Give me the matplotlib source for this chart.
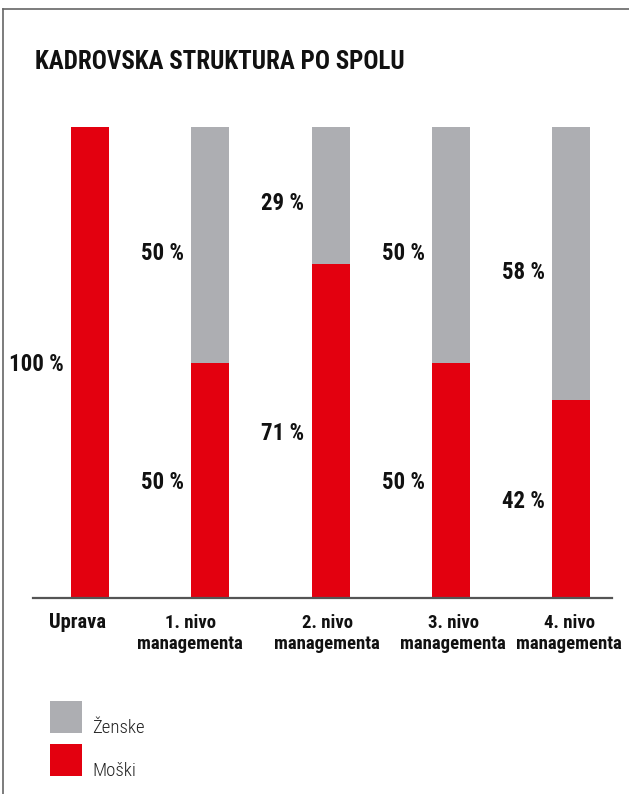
import numpy as np
import matplotlib
matplotlib.use("Agg")
import matplotlib.pyplot as plt
from matplotlib.patches import Rectangle
from matplotlib.lines import Line2D

categories = ["Uprava", "1. nivo\nmanagementa", "2. nivo\nmanagementa",
              "3. nivo\nmanagementa", "4. nivo\nmanagementa"]
moski = [100, 50, 71, 50, 42]
zenske = [0, 50, 29, 50, 58]
legend_labels = ["Ženske", "Moški"]
title = "KADROVSKA STRUKTURA PO SPOLU"

RED = "#e3000f"
GREY = "#adaeb2"

plt.rcParams["font.family"] = ["Roboto Condensed", "DejaVu Sans"]

W, H = 629, 794
fig = plt.figure(figsize=(W / 100, H / 100), dpi=100)

def fx(px):
    return px / W

def fy(py):
    return 1 - py / H

# plot area: baseline at y=598, 100 % at y=127
ax = fig.add_axes([fx(33), fy(598), fx(612) - fx(33), (598 - 127) / H])
x = np.arange(len(categories))
width = 0.316
ax.bar(x, moski, width, color=RED, zorder=2)
ax.bar(x, zenske, width, bottom=moski, color=GREY, zorder=2)
ax.set_xlim(-0.474, 4.34)
ax.set_ylim(0, 100)
for s in ["top", "left", "right"]:
    ax.spines[s].set_visible(False)
ax.spines["bottom"].set_color("#555555")
ax.spines["bottom"].set_linewidth(1.6)
ax.spines["bottom"].set_zorder(3)
ax.set_xticks([])
ax.set_yticks([])

# value labels to the left of each segment
for i in range(len(categories)):
    lx = x[i] - width / 2 - 0.06
    if moski[i] > 0:
        ax.text(lx, moski[i] / 2 - 0.5, f"{moski[i]} %", ha="right", va="center",
                fontsize=16.5, fontweight="bold", color="#111111")
    if zenske[i] > 0:
        ax.text(lx, moski[i] + zenske[i] / 2 - 1.8, f"{zenske[i]} %", ha="right",
                va="center", fontsize=16.5, fontweight="bold", color="#111111")

# category names under the axis (centres in pixels, not quite under the bars)
label_cx = [78, 190, 327, 453, 569]
for i, name in enumerate(categories):
    fig.text(fx(label_cx[i]), fy(614 if i else 613), name, ha="center", va="top",
             fontsize=13.5 if i else 14.8, fontweight="bold", color="#111111",
             linespacing=1.2)

fig.text(fx(35), fy(62), title, ha="left", va="center", fontsize=18,
         fontweight="bold", color="#111111")

# legend
for j, (lab, col) in enumerate(zip(legend_labels, [GREY, RED])):
    top = 701 + j * 43
    fig.add_artist(Rectangle((fx(50), fy(top + 32)), fx(32), 32 / H,
                             transform=fig.transFigure, color=col, lw=0))
    fig.text(fx(92), fy(top + 32), lab, ha="left", va="baseline", fontsize=13.5,
             fontweight="light", color="#222222")

# outer frame lines (top and left)
fig.add_artist(Line2D([fx(3.5), fx(3.5)], [0, fy(8.5)], color="#666666", lw=1.2))
fig.add_artist(Line2D([fx(3.5), 1], [fy(8.5), fy(8.5)], color="#666666", lw=1.2))

fig.savefig("out.png", dpi=100, facecolor="white")
